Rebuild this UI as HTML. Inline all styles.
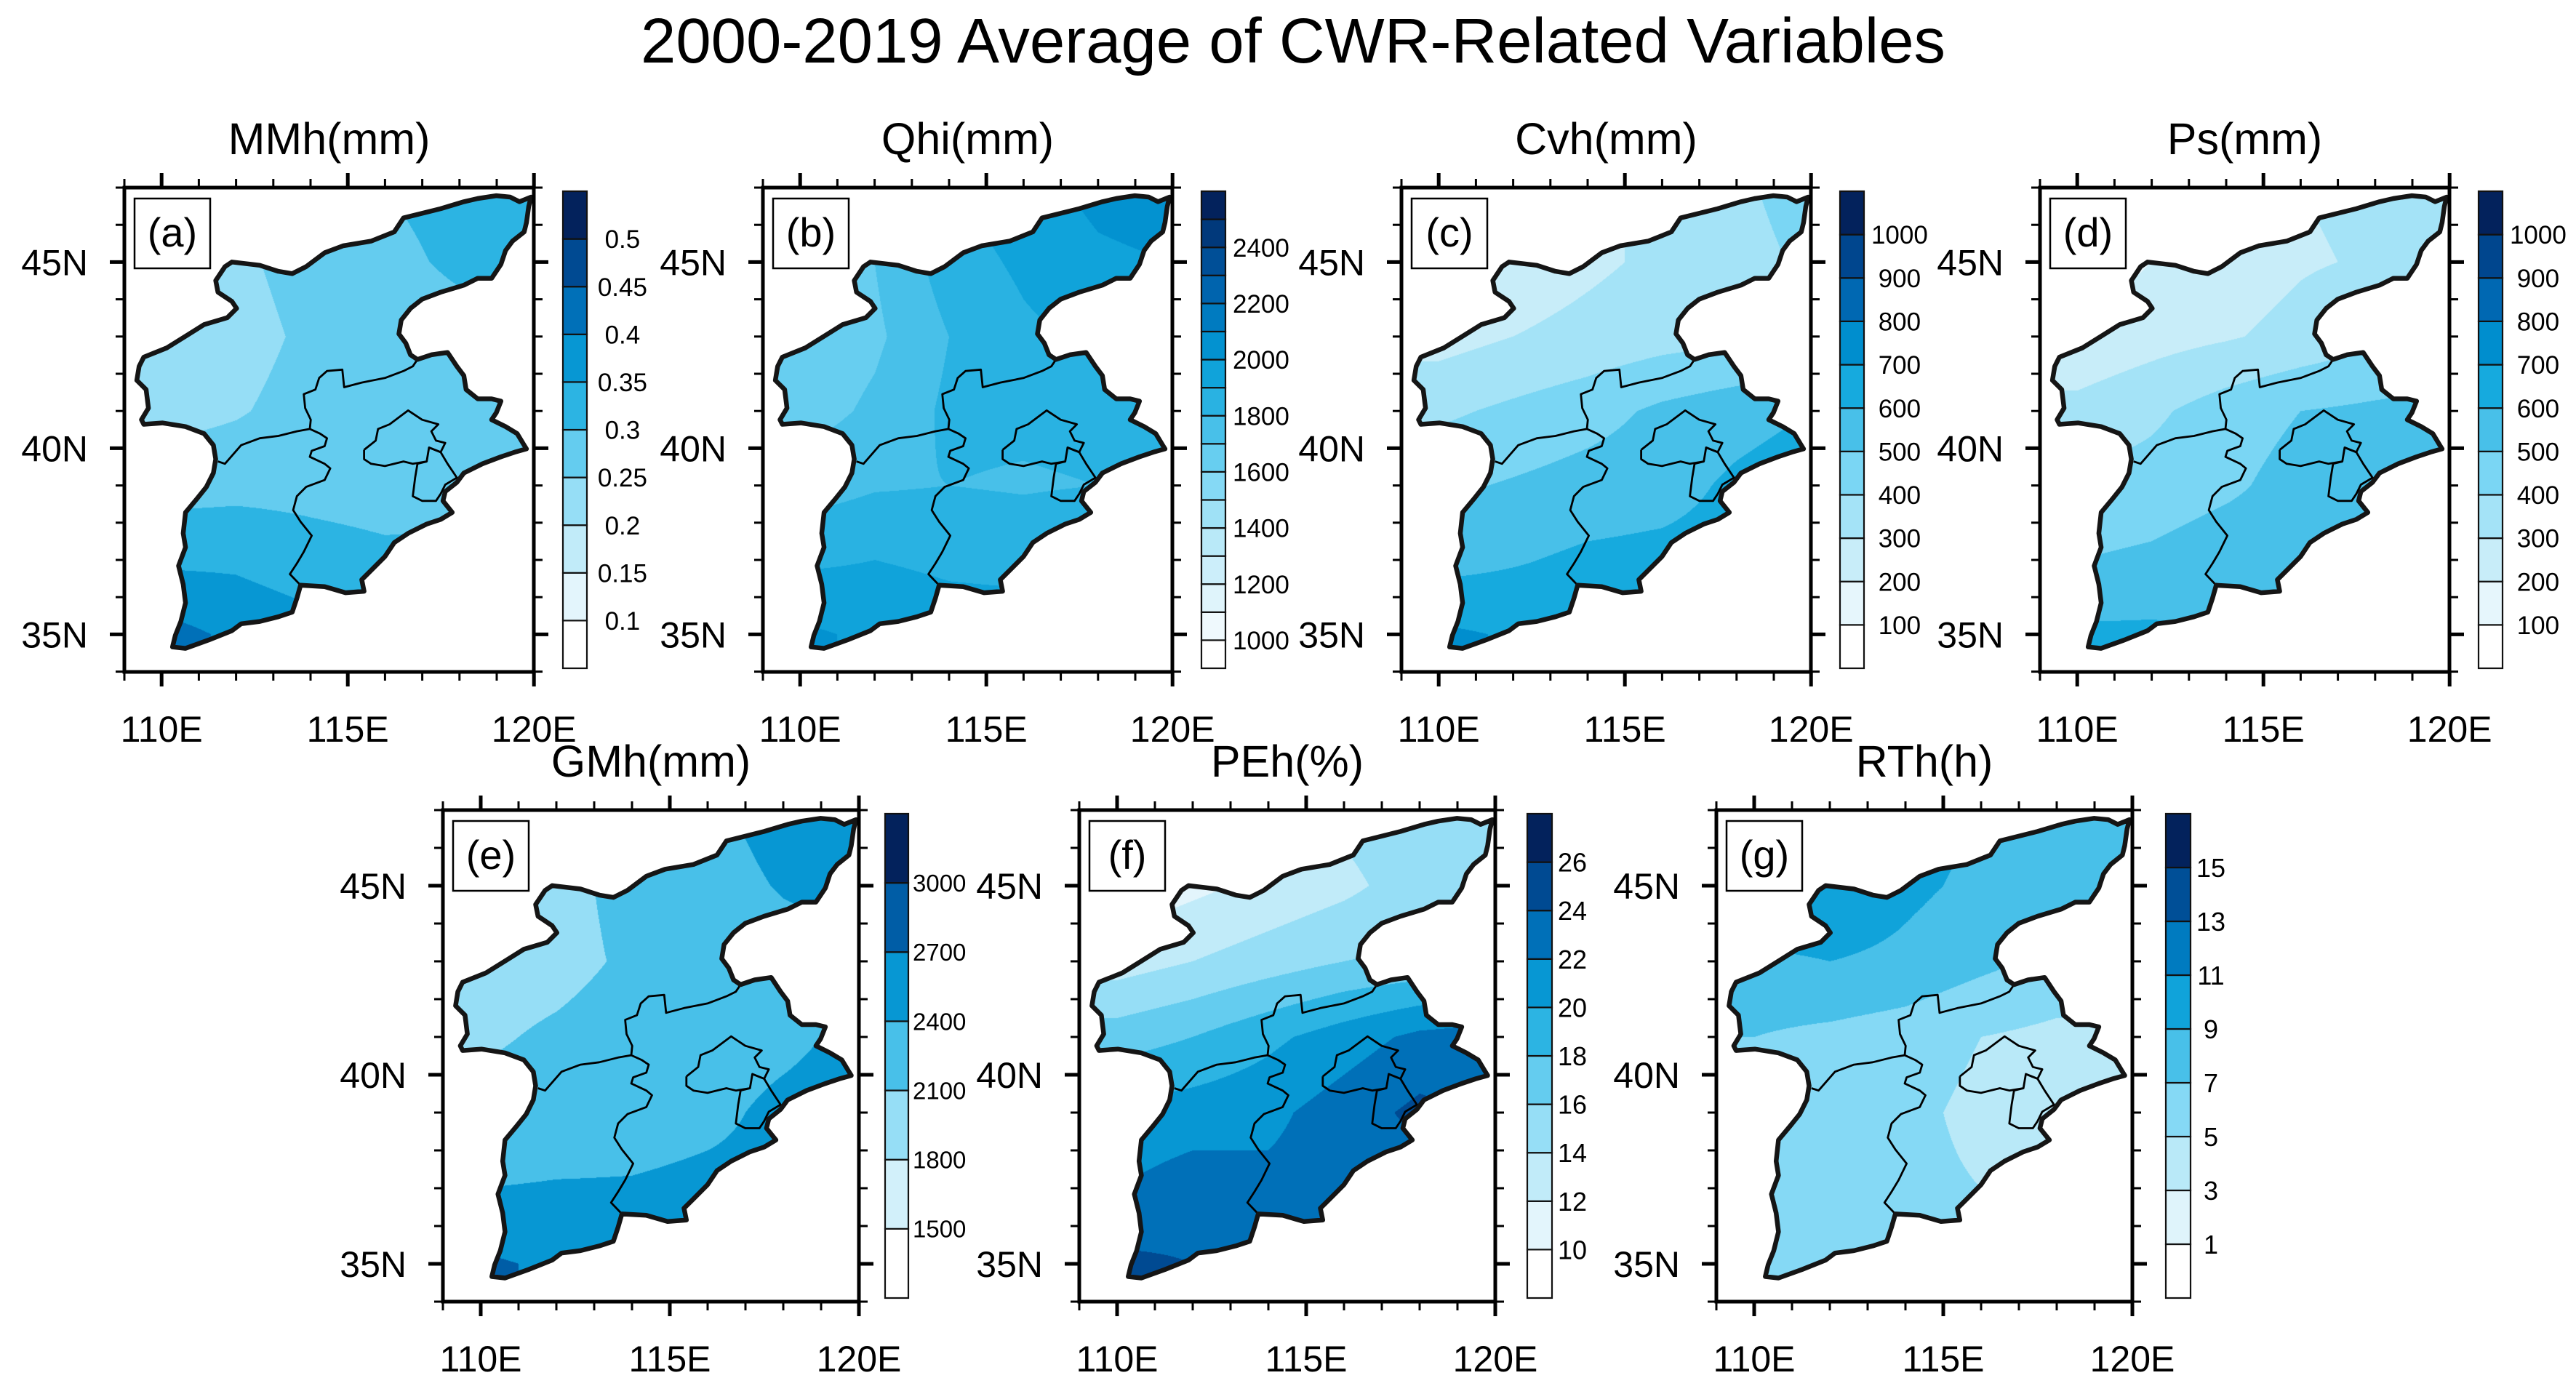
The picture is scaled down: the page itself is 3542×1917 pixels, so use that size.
<!DOCTYPE html>
<html><head><meta charset="utf-8"><title>2000-2019 Average of CWR-Related Variables</title>
<style>
html,body{margin:0;padding:0;background:#fff;}
#wrap{position:relative;width:3542px;height:1917px;overflow:hidden;background:#fff;font-family:"Liberation Sans",Arial,sans-serif;}
canvas{position:absolute;}
#ov{position:absolute;left:0;top:0;}
</style></head>
<body>
<div id="wrap">
<svg id="ov" width="3542" height="1917" xmlns="http://www.w3.org/2000/svg">
<text x="1778" y="86" font-size="87" text-anchor="middle" textLength="1794" lengthAdjust="spacingAndGlyphs" font-family="Liberation Sans, sans-serif">2000-2019 Average of CWR-Related Variables</text>
</svg>
</div>
<script>
// ---- chart data (top level) ----
const panelTitles = ['MMh(mm)','Qhi(mm)','Cvh(mm)','Ps(mm)','GMh(mm)','PEh(%)','RTh(h)'];
const panelTags = ['(a)','(b)','(c)','(d)','(e)','(f)','(g)'];
const gridLons = [110,112,114,116,118,120];
const gridLats = [47,45,43,41,39,37,35];
const fieldA = [[.27,.28,.29,.30,.32,.33],[.23,.24,.27,.285,.31,.32],[.22,.23,.26,.27,.28,.28],[.23,.245,.27,.28,.28,.28],[.28,.285,.285,.28,.285,.29],[.34,.34,.32,.31,.31,.31],[.42,.39,.37,.36,.36,.36]];
const fieldB = [[1750,1800,1900,1960,2030,2060],[1650,1700,1850,1920,1980,2000],[1620,1680,1800,1880,1920,1900],[1650,1720,1820,1820,1830,1850],[1750,1790,1800,1790,1800,1850],[1880,1900,1880,1870,1900,1900],[2020,1980,1950,1950,1950,1950]];
const fieldC = [[250,260,280,320,380,450],[220,240,280,320,360,420],[260,300,330,360,380,400],[380,420,460,520,560,600],[480,510,540,560,620,660],[560,590,620,630,640,650],[720,690,660,650,650,650]];
const fieldD = [[150,200,250,300,320,350],[140,200,250,290,310,330],[220,260,290,330,380,400],[330,380,450,500,520,540],[420,440,480,540,560,600],[500,520,560,560,560,580],[620,620,600,620,620,620]];
const fieldE = [[2200,2250,2300,2350,2500,2600],[1950,2000,2200,2300,2420,2500],[1950,2000,2150,2250,2300,2300],[2050,2150,2250,2300,2350,2450],[2200,2250,2300,2350,2450,2500],[2400,2420,2420,2450,2450,2450],[2750,2650,2550,2500,2500,2500]];
const fieldF = [[11,12,13,14.5,15.5,16],[10.5,11.5,12.5,13.5,15,15.5],[13,14,15,16,16.5,17],[17,18,19.5,21,22.5,23],[20.5,21,21.5,23,24.5,23.5],[22,23,22.5,23,23,23],[24.5,24,23,23,23,23]];
const fieldG = [[9,10,10,9,8,7.5],[11.5,11,9.5,8.5,8,7.5],[8.5,9,8.5,7.5,6.5,6],[7,6.5,6,5,4.5,4.5],[6,6,5.5,4.5,4.5,4.5],[6,6,5.5,5,5,5],[6,6,5.5,5,5,5]];
const levelsA = [0.1,0.15,0.2,0.25,0.3,0.35,0.4,0.45,0.5];
const levelsB = [1000,1100,1200,1300,1400,1500,1600,1700,1800,1900,2000,2100,2200,2300,2400,2500];
const levelsC = [100,200,300,400,500,600,700,800,900,1000];
const levelsD = [100,200,300,400,500,600,700,800,900,1000];
const levelsE = [1500,1800,2100,2400,2700,3000];
const levelsF = [10,12,14,16,18,20,22,24,26];
const levelsG = [1,3,5,7,9,11,13,15];
const labelsA = ['0.1','0.15','0.2','0.25','0.3','0.35','0.4','0.45','0.5'];
const labelsB = ['1000','','1200','','1400','','1600','','1800','','2000','','2200','','2400',''];
const labelsC = ['100','200','300','400','500','600','700','800','900','1000'];
const labelsD = ['100','200','300','400','500','600','700','800','900','1000'];
const labelsE = ['1500','1800','2100','2400','2700','3000'];
const labelsF = ['10','12','14','16','18','20','22','24','26'];
const labelsG = ['1','3','5','7','9','11','13','15'];
const lonTicks = [110,115,120];
const latTicks = [35,40,45];
const lonTickLabels = ['110E','115E','120E'];
const latTickLabels = ['35N','40N','45N'];

// ---- geometry (boundary traces, reference-trace units) ----
const outerTrace = [[372,1395],[400,1398],[450,1380],[500,1360],[520,1345],[560,1340],[600,1330],[630,1320],[640,1290],[648,1262],[700,1265],[745,1278],[785,1275],[780,1250],[800,1230],[830,1200],[850,1170],[880,1150],[920,1130],[950,1120],[975,1105],[955,1080],[960,1060],[985,1040],[1000,1020],[1040,1000],[1080,985],[1110,975],[1135,968],[1130,960],[1115,935],[1090,920],[1060,905],[1070,890],[1080,865],[1060,860],[1030,860],[1005,840],[1000,810],[985,790],[965,760],[930,765],[900,775],[885,765],[875,740],[860,720],[865,690],[885,665],[910,645],[950,630],[1000,615],[1030,600],[1060,600],[1080,570],[1090,540],[1105,520],[1130,500],[1135,480],[1140,445],[1145,425],[1120,435],[1100,425],[1070,422],[1030,428],[1000,435],[950,450],[870,470],[850,500],[800,520],[740,530],[700,545],[660,575],[630,590],[600,585],[560,572],[500,565],[485,575],[465,605],[470,630],[500,650],[510,665],[490,685],[440,700],[400,725],[360,750],[310,770],[300,790],[295,820],[315,840],[320,880],[305,905],[310,915],[350,912],[400,920],[440,935],[460,960],[465,990],[460,1020],[445,1050],[425,1075],[400,1105],[395,1150],[400,1180],[385,1220],[395,1260],[400,1300],[390,1340],[378,1370]];
const innerTraces = [
 [[470,995],[485,1000],[520,960],[560,945],[600,940],[640,930],[668,925],[670,905],[658,880],[655,850],[680,840],[688,815],[705,800],[738,797],[742,835],[780,825],[830,815],[870,800],[890,790],[900,775]],
 [[668,925],[690,935],[705,945],[700,962],[672,972],[668,985],[700,1000],[712,1010],[700,1035],[660,1050],[640,1070],[632,1100],[648,1125],[672,1155],[655,1190],[640,1215],[625,1238],[648,1262]],
 [[785,970],[810,950],[815,925],[840,915],[880,885],[910,905],[945,915],[930,930],[940,950],[960,955],[950,975],[925,965],[920,995],[890,1000],[870,995],[830,1005],[800,1000],[785,990],[785,970]],
 [[925,965],[950,975],[965,1000],[985,1030],[960,1045],[950,1065],[940,1080],[910,1080],[890,1070],[895,1030],[900,1000],[920,995]]
];
function traceToLL(p){ return [109 + (p[0]/1.568 - 171)/51.2, 47 - (p[1]/1.568 - 258)/51.2]; }

// ---- layout ----
const layout = [
 {x:171,y:258,s:51.2,gap:40,cbw:33,fs:35,pad:10},{x:1049,y:258,s:51.2,gap:40,cbw:33,fs:35,pad:10},
 {x:1927,y:258,s:51.2,gap:40,cbw:33,fs:35,pad:10},{x:2805,y:258,s:51.2,gap:40,cbw:33,fs:35,pad:10},
 {x:609,y:1114,s:52,gap:36,cbw:32,fs:33,pad:6},{x:1484,y:1114,s:52,gap:44,cbw:34,fs:36,pad:8},
 {x:2360,y:1114,s:52,gap:46,cbw:34,fs:36,pad:8}];
const fields=[fieldA,fieldB,fieldC,fieldD,fieldE,fieldF,fieldG];
const levels=[levelsA,levelsB,levelsC,levelsD,levelsE,levelsF,levelsG];
const labels=[labelsA,labelsB,labelsC,labelsD,labelsE,labelsF,labelsG];
const LON0=109,LON1=120,LAT0=34,LAT1=47;

const rampStops=[[0,[255,255,255]],[0.1,[230,246,252]],[0.25,[185,233,248]],[0.4,[122,214,244]],[0.5,[72,192,233]],[0.6,[22,170,222]],[0.7,[0,142,206]],[0.8,[0,104,178]],[0.9,[0,70,142]],[1,[3,34,92]]];
function ramp(t){for(let i=1;i<rampStops.length;i++){if(t<=rampStops[i][0]+1e-9){const a=rampStops[i-1],b=rampStops[i];const f=(t-a[0])/(b[0]-a[0]);return a[1].map((c,j)=>Math.round(c+(b[1][j]-c)*f));}}return rampStops[rampStops.length-1][1];}
function interp(g,lon,lat){
 let fi=(lon-gridLons[0])/(gridLons[1]-gridLons[0]); let fj=(gridLats[0]-lat)/(gridLats[0]-gridLats[1]);
 fi=Math.max(0,Math.min(gridLons.length-1.0001,fi)); fj=Math.max(0,Math.min(gridLats.length-1.0001,fj));
 const i=Math.floor(fi),j=Math.floor(fj),u=fi-i,v=fj-j;
 return g[j][i]*(1-u)*(1-v)+g[j][i+1]*u*(1-v)+g[j+1][i]*(1-u)*v+g[j+1][i+1]*u*v;
}
const NS='http://www.w3.org/2000/svg';
const svg=document.getElementById('ov');
const wrap=document.getElementById('wrap');
function mk(tag,attrs,parent){const e=document.createElementNS(NS,tag);for(const k in attrs)e.setAttribute(k,attrs[k]);(parent||svg).appendChild(e);return e;}

layout.forEach((L,p)=>{
 const W=Math.round((LON1-LON0)*L.s), H=Math.round((LAT1-LAT0)*L.s);
 const xS=lon=>L.x+(lon-LON0)*L.s, yS=lat=>L.y+(LAT1-lat)*L.s;
 const nBox=levels[p].length+1;
 const colors=[];for(let k=0;k<nBox;k++)colors.push(ramp(k/(nBox-1)));
 const cv=document.createElement('canvas');cv.width=W;cv.height=H;cv.style.left=L.x+'px';cv.style.top=L.y+'px';
 
 
 wrap.insertBefore(cv,svg);
 const ctx=cv.getContext('2d');const img=ctx.createImageData(W,H);
 for(let py=0;py<H;py++){const lat=LAT1-(py+0.5)/L.s;for(let px=0;px<W;px++){const lon=LON0+(px+0.5)/L.s;const v=interp(fields[p],lon,lat);let k=0;for(const l of levels[p]){if(v>=l)k++;}const c=colors[k];const o=(py*W+px)*4;img.data[o]=c[0];img.data[o+1]=c[1];img.data[o+2]=c[2];img.data[o+3]=255;}}
 ctx.putImageData(img,0,0);
 ctx.globalCompositeOperation='destination-in';ctx.beginPath();
 outerTrace.forEach((t,i)=>{const ll=traceToLL(t);const X=(ll[0]-LON0)*L.s,Y=(LAT1-ll[1])*L.s;i?ctx.lineTo(X,Y):ctx.moveTo(X,Y);});
 ctx.closePath();ctx.fill();

 const g=mk('g',{});
 
 
 const toPath=(arr,close)=>arr.map((t,i)=>{const ll=traceToLL(t);return (i?'L':'M')+xS(ll[0]).toFixed(1)+','+yS(ll[1]).toFixed(1);}).join('')+(close?'Z':'');
 innerTraces.forEach(tr=>{const e=mk('path',{d:toPath(tr,false),fill:'none',stroke:'#000','stroke-width':2.8,'stroke-linejoin':'round'},g);
  
  });
 const ob=mk('path',{d:toPath(outerTrace,true),fill:'none',stroke:'#151515','stroke-width':6.5,'stroke-linejoin':'round'},g);
 
 
 const fr=mk('rect',{x:L.x,y:L.y,width:W,height:H,fill:'none',stroke:'#000','stroke-width':5},g);
 
 
 for(let lon=LON0;lon<=LON1;lon++){const maj=lonTicks.includes(lon);const len=maj?20:12,sw=maj?5:3;const X=xS(lon);
  mk('line',{x1:X,x2:X,y1:L.y,y2:L.y-len,stroke:'#000','stroke-width':sw},g);
  mk('line',{x1:X,x2:X,y1:L.y+H,y2:L.y+H+len,stroke:'#000','stroke-width':sw},g);}
 for(let lat=LAT0;lat<=LAT1;lat++){const maj=latTicks.includes(lat);const len=maj?20:12,sw=maj?5:3;const Y=yS(lat);
  mk('line',{x1:L.x,x2:L.x-len,y1:Y,y2:Y,stroke:'#000','stroke-width':sw},g);
  mk('line',{x1:L.x+W,x2:L.x+W+len,y1:Y,y2:Y,stroke:'#000','stroke-width':sw},g);}
 lonTicks.forEach((lon,i)=>{const t=mk('text',{x:xS(lon),y:L.y+H+96,'font-size':50,'text-anchor':'middle'},g);t.textContent=lonTickLabels[i];
  
  });
 latTicks.forEach((lat,i)=>{const t=mk('text',{x:L.x-50,y:yS(lat)+18,'font-size':50,'text-anchor':'end'},g);t.textContent=latTickLabels[i];
  
  });
 const tt=mk('text',{x:L.x+W/2,y:L.y-46,'font-size':61,'text-anchor':'middle'},g);tt.textContent=panelTitles[p];
 
 
 const tb=mk('rect',{x:L.x+14,y:L.y+15,width:104,height:96,fill:'#fff',stroke:'#000','stroke-width':2.5},g);
 
 
 const tg=mk('text',{x:L.x+66,y:L.y+81,'font-size':56,'text-anchor':'middle'},g);tg.textContent=panelTags[p];
 
 
 const cx=L.x+W+L.gap, cy0=L.y+5, cy1=L.y+H-5, bh=(cy1-cy0)/nBox;
 const cb=mk('g',{},g);
 
 
 for(let k=0;k<nBox;k++){const c=colors[k];const r=mk('rect',{x:cx,y:cy1-(k+1)*bh,width:L.cbw,height:bh,fill:'rgb('+c.join(',')+')',stroke:'#111','stroke-width':2.2},cb);
  
  }
 let maxw=0;labels[p].forEach(s=>{maxw=Math.max(maxw,s.length);});
 const cw=L.fs*0.556*maxw;
 labels[p].forEach((s,i)=>{if(!s)return;const t=mk('text',{x:cx+L.cbw+L.pad+cw/2,y:cy1-(i+1)*bh+L.fs*0.36,'font-size':L.fs,'text-anchor':'middle'},cb);t.textContent=s;
  
  });
});
</script>
</body></html>
